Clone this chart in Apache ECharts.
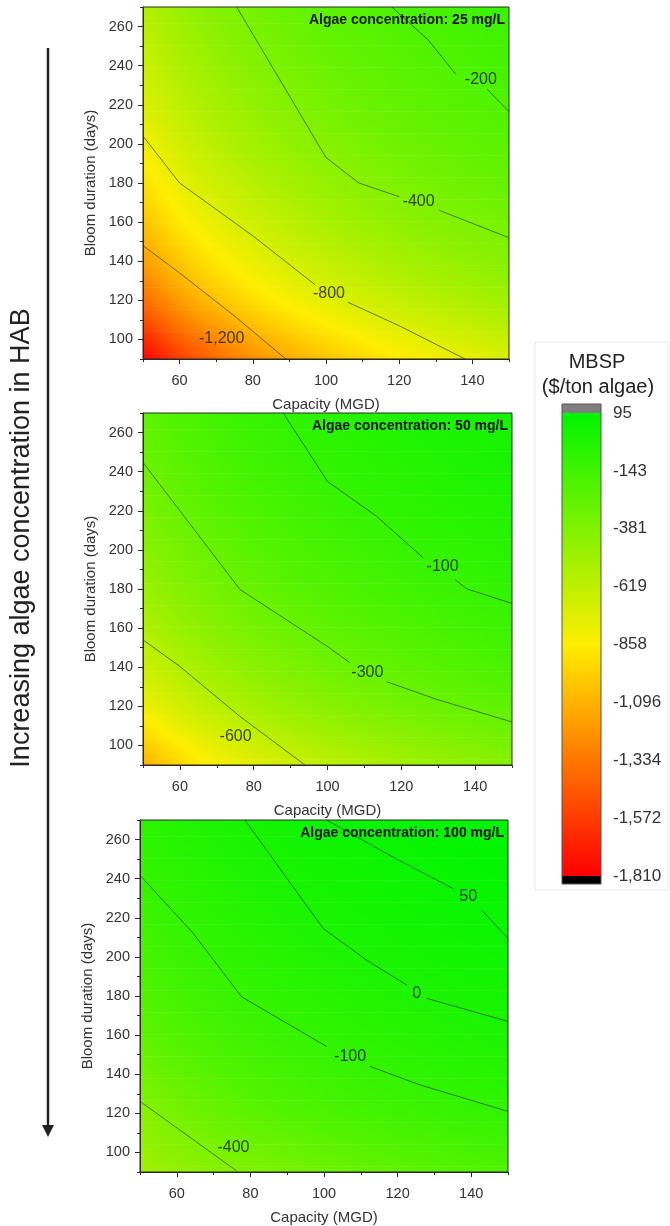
<!DOCTYPE html>
<html>
<head>
<meta charset="utf-8">
<title>MBSP vs capacity and bloom duration</title>
<script src="https://cdn.jsdelivr.net/npm/echarts@6/dist/echarts.min.js"></script>
<style>
  html, body { margin: 0; padding: 0; background: #fff; }
  #box { width: 670px; height: 1226px; }
</style>
</head>
<body>
<div id="box"></div>
<script>
// grid nodes of the maps (capacity in MGD, bloom duration in days)
var capacity = [50, 60, 70, 80, 90, 100, 110, 120, 130, 140, 150];
var duration = [90, 120, 150, 180, 210, 240, 270];
var capacityTicks = [60, 80, 100, 120, 140];
var durationTicks = [100, 120, 140, 160, 180, 200, 220, 240, 260];
var colorbarTicks = [95, -143, -381, -619, -858, -1096, -1334, -1572, -1810];

// MBSP ($/ton algae), one row per duration (90 -> 270), one column per capacity
var mbsp25 = [
  [-1811, -1569, -1385, -1240, -1124, -1027, -946, -875, -813, -759, -712],
  [-1379, -1187, -1041, -926, -833, -756, -691, -635, -586, -543, -505],
  [-1104, -943, -821, -725, -647, -583, -529, -482, -441, -405, -373],
  [-915, -776, -670, -587, -520, -464, -418, -377, -341, -310, -283],
  [-774, -651, -557, -484, -425, -376, -334, -298, -267, -240, -216],
  [-665, -555, -471, -405, -352, -307, -270, -238, -210, -185, -164],
  [-579, -478, -402, -342, -294, -253, -220, -190, -165, -142, -122]
];
var mbsp50 = [
  [-1103, -954, -840, -749, -674, -612, -560, -514, -473, -438, -406],
  [-808, -689, -598, -526, -467, -417, -376, -339, -307, -279, -254],
  [-619, -520, -444, -384, -334, -293, -258, -228, -201, -177, -156],
  [-490, -404, -338, -286, -243, -208, -178, -151, -128, -108, -89],
  [-393, -318, -259, -213, -176, -144, -117, -94, -73, -56, -40],
  [-319, -251, -199, -157, -123, -95, -71, -50, -32, -16, -1],
  [-260, -198, -150, -113, -82, -56, -34, -15, 2, 16, 29]
];
var mbsp100 = [
  [-500, -455, -415, -383, -350, -317, -285, -258, -234, -213, -194],
  [-416, -348, -295, -253, -219, -190, -165, -143, -124, -107, -92],
  [-298, -241, -197, -162, -133, -109, -88, -70, -54, -40, -27],
  [-216, -167, -129, -99, -74, -53, -35, -19, -6, 7, 18],
  [-156, -112, -79, -52, -30, -11, 5, 18, 31, 41, 51],
  [-109, -70, -40, -16, 4, 21, 35, 47, 58, 68, 77],
  [-72, -37, -9, 13, 31, 46, 59, 70, 80, 89, 95]
];

// contour lines [capacity, duration]; null = gap left for the label
var contours25 = [
  [[50, 148], [60, 134], [75, 112], [89, 90]],
  [[50, 204], [60, 180], [80, 153], [97, 128], null, [106, 119], [120, 107], [138, 90]],
  [[75.6, 270], [100, 193], [109, 180], [120, 173], null, [131, 166], [150, 152]],
  [[118, 270], [128, 253], [135.5, 235.5], null, [144, 228], [150, 216.5]]
];
var labels25 = [[71.5, 100.3, -1200], [100.8, 123.6, -800], [125.3, 170.4, -400], [142.3, 232.8, -200]];

var contours50 = [
  [[50, 154], [60, 140.4], [76.3, 114.8], [93.9, 90]],
  [[50, 244.7], [76.3, 179.7], [100, 150.6], [106, 142.4], null, [116, 132.6], [129.7, 123.5], [150, 112]],
  [[88, 270], [100, 235], [113.3, 217.2], [125.9, 196], null, [134.6, 184.8], [137.7, 180.1], [150, 172.6]]
];
var labels50 = [[75.1, 104.4, -600], [110.8, 137.1, -300], [131.2, 191.6, -100]];

var contours100 = [
  [[50, 126.1], [76.3, 90.5]],
  [[50, 241.7], [64.5, 212], [77.6, 179.6], [100.7, 154.2], null, [112.5, 144], [126, 134.6], [150, 121]],
  [[78.5, 270], [99.8, 214.5], [111.6, 198.3], [122.5, 185.6], null, [127.9, 178.8], [150, 167]],
  [[100.7, 270], [118.8, 251], [135.1, 234.9], null, [142.9, 223.8], [150, 209.4]]
];
var labels100 = [[75.4, 102.7, -400], [107.1, 149.1, -100], [125.2, 181.4, 0], [139.2, 230.6, 50]];

var panels = [
  { conc: '25 mg/L', values: mbsp25, lines: contours25, labels: labels25 },
  { conc: '50 mg/L', values: mbsp50, lines: contours50, labels: labels50 },
  { conc: '100 mg/L', values: mbsp100, lines: contours100, labels: labels100 }
];

// layout of the three maps
var gridLeft = [143, 143, 140];
var gridTop = [7, 413, 820];
var gridWidth = [366, 369, 368];
var gridHeight = 352;

// red -> yellow -> green colour scale
var scaleMin = -1810, scaleMid = -858, scaleMax = 95;
var cRed = [255, 0, 0], cYellow = [255, 238, 0], cGreen = [0, 245, 0];
var font = '"Liberation Sans", Arial, Helvetica, sans-serif';
var ink = '#2a2a2a';

function mix(a, b, t) {
  return 'rgb(' + Math.round(a[0] + (b[0] - a[0]) * t) + ',' +
    Math.round(a[1] + (b[1] - a[1]) * t) + ',' + Math.round(a[2] + (b[2] - a[2]) * t) + ')';
}
function mbspColor(v) {
  if (v <= scaleMin) return mix(cRed, cRed, 0);
  if (v >= scaleMax) return mix(cGreen, cGreen, 0);
  if (v < scaleMid) return mix(cRed, cYellow, (v - scaleMin) / (scaleMid - scaleMin));
  return mix(cYellow, cGreen, (v - scaleMid) / (scaleMax - scaleMid));
}
function fmt(v) { return Number(v).toLocaleString('en-US'); }

// smooth (Catmull-Rom) shading between the read grid nodes, used only for drawing
function pick(arr, i) {
  var n = arr.length;
  if (i < 0) return 2 * arr[0] - arr[1];
  if (i > n - 1) return 2 * arr[n - 1] - arr[n - 2];
  return arr[i];
}
function cr(p0, p1, p2, p3, t) {
  return 0.5 * (2 * p1 + (-p0 + p2) * t + (2 * p0 - 5 * p1 + 4 * p2 - p3) * t * t +
    (-p0 + 3 * p1 - 3 * p2 + p3) * t * t * t);
}
function colAt(rows, i, j, s) {
  var col = rows.map(function (r) { return r[i]; });
  return cr(pick(col, j - 1), pick(col, j), pick(col, j + 1), pick(col, j + 2), s);
}

function makeShade(rows) {
  return function (params, api) {
    var j = api.value(2);
    var c0 = capacity[0], c1 = capacity[capacity.length - 1];
    var tl = api.coord([c0, api.value(1)]);
    var br = api.coord([c1, api.value(0)]);
    var w = br[0] - tl[0], h = br[1] - tl[1];
    var n = Math.ceil(h / 1.5);
    var children = [];
    for (var k = 0; k < n; k++) {
      var s = 1 - (k + 0.5) / n;
      var line = capacity.map(function (c, i) { return colAt(rows, i, j, s); });
      var stops = [];
      for (var i = 0; i < capacity.length; i++) {
        stops.push({ offset: (capacity[i] - c0) / (c1 - c0), color: mbspColor(line[i]) });
        if (i < capacity.length - 1) {
          for (var q = 1; q < 6; q++) {
            var f = q / 6;
            var v = cr(pick(line, i - 1), line[i], line[i + 1], pick(line, i + 2), f);
            var cc = capacity[i] + (capacity[i + 1] - capacity[i]) * f;
            stops.push({ offset: (cc - c0) / (c1 - c0), color: mbspColor(v) });
          }
        }
      }
      children.push({
        type: 'rect',
        shape: { x: tl[0], y: tl[1] + k * h / n, width: w, height: h / n + 0.7 },
        style: { fill: { type: 'linear', x: 0, y: 0, x2: 1, y2: 0, colorStops: stops } }
      });
    }
    return { type: 'group', children: children };
  };
}

var option = {
  animation: false,
  backgroundColor: '#fff',
  textStyle: { fontFamily: font },
  grid: [], xAxis: [], yAxis: [], series: [], title: [], graphic: []
};

panels.forEach(function (p, k) {
  option.grid.push({
    left: gridLeft[k], top: gridTop[k], width: gridWidth[k], height: gridHeight,
    show: true, borderColor: ink, borderWidth: 1, backgroundColor: 'transparent', z: 10
  });
  // main axes: labels + long ticks
  option.xAxis.push({
    gridIndex: k, type: 'value', min: 50, max: 150, interval: 10, position: 'bottom', z: 10,
    name: 'Capacity (MGD)', nameLocation: 'middle', nameGap: 38,
    nameTextStyle: { fontSize: 15, color: '#333' },
    axisLine: { lineStyle: { color: ink, width: 1 } },
    axisTick: { customValues: capacityTicks, length: 5, lineStyle: { color: ink } },
    axisLabel: { customValues: capacityTicks, fontSize: 14.5, color: '#333', margin: 14 },
    splitLine: { show: false }
  });
  // minor ticks every 10
  option.xAxis.push({
    gridIndex: k, type: 'value', min: 50, max: 150, interval: 10, position: 'bottom', z: 10,
    axisLine: { show: false }, axisLabel: { show: false }, splitLine: { show: false },
    axisTick: { length: 3, lineStyle: { color: ink } }
  });
  option.yAxis.push({
    gridIndex: k, type: 'value', min: 90, max: 270, interval: 10, position: 'left', z: 10,
    name: 'Bloom duration (days)', nameLocation: 'middle', nameGap: 40,
    nameTextStyle: { fontSize: 15, color: '#333' },
    axisLine: { show: true, lineStyle: { color: ink, width: 1 } },
    axisTick: { customValues: durationTicks, length: 5, lineStyle: { color: ink } },
    axisLabel: { customValues: durationTicks, fontSize: 14.5, color: '#333', margin: 10 },
    splitLine: { show: false }
  });
  option.yAxis.push({
    gridIndex: k, type: 'value', min: 90, max: 270, interval: 10, position: 'left', z: 10,
    axisLine: { show: false }, axisLabel: { show: false }, splitLine: { show: false },
    axisTick: { length: 3, lineStyle: { color: ink } }
  });

  var bands = [];
  for (var j = 0; j < duration.length - 1; j++) bands.push([duration[j], duration[j + 1], j]);
  option.series.push({
    type: 'custom', xAxisIndex: 2 * k, yAxisIndex: 2 * k, data: bands,
    renderItem: makeShade(p.values), clip: true, silent: true, z: 1
  });

  p.lines.forEach(function (line) {
    var seg = [];
    line.concat([null]).forEach(function (pt) {
      if (pt) { seg.push(pt); return; }
      if (seg.length) {
        option.series.push({
          type: 'line', xAxisIndex: 2 * k, yAxisIndex: 2 * k, data: seg,
          symbol: 'none', silent: true, z: 3,
          lineStyle: { color: 'rgba(40,62,22,0.65)', width: 1 }
        });
      }
      seg = [];
    });
  });

  option.series.push({
    type: 'scatter', xAxisIndex: 2 * k, yAxisIndex: 2 * k, data: p.labels,
    symbolSize: 1, itemStyle: { color: 'rgba(0,0,0,0)' }, silent: true, z: 4,
    label: {
      show: true, position: 'inside', fontSize: 16, color: '#1a1a1a',
      formatter: function (d) { return fmt(d.value[2]); }
    }
  });

  option.title.push({
    text: '{a|Algae concentration: }{b|' + p.conc + '}',
    right: 670 - (gridLeft[k] + gridWidth[k]) + 4, top: gridTop[k] + 6, padding: 0, z: 12,
    textStyle: {
      rich: {
        a: { fontSize: 14, color: '#1a1a1a', fontFamily: font },
        b: { fontSize: 14, color: '#111', fontWeight: 'bold', fontFamily: font }
      }
    }
  });
});

// colour bar: its own grid, with the value axis carrying the ticks
option.grid.push({ left: 562, top: 413, width: 39, height: 463 });
option.xAxis.push({ gridIndex: 3, type: 'value', min: 0, max: 1, show: false });
option.yAxis.push({
  gridIndex: 3, type: 'value', min: scaleMin, max: scaleMax, position: 'right',
  axisLine: { show: false }, splitLine: { show: false },
  axisTick: { show: true, customValues: colorbarTicks, length: 7, lineStyle: { color: '#555' } },
  axisLabel: { customValues: colorbarTicks, fontSize: 17, color: '#333', margin: 12, formatter: fmt }
});
option.series.push({
  type: 'custom', xAxisIndex: 6, yAxisIndex: 6, data: [[0, scaleMin, 1, scaleMax]], silent: true,
  renderItem: function (params, api) {
    var top = api.coord([api.value(0), api.value(3)]);
    var bot = api.coord([api.value(2), api.value(1)]);
    var w = bot[0] - top[0], h = bot[1] - top[1];
    var mid = (scaleMax - scaleMid) / (scaleMax - scaleMin);
    return {
      type: 'group', children: [
        { type: 'rect', shape: { x: top[0], y: top[1] - 9, width: w, height: 9 }, style: { fill: '#7f7f7f' } },
        {
          type: 'rect', shape: { x: top[0], y: top[1], width: w, height: h },
          style: {
            fill: {
              type: 'linear', x: 0, y: 0, x2: 0, y2: 1, colorStops: [
                { offset: 0, color: mbspColor(scaleMax) },
                { offset: mid, color: mbspColor(scaleMid) },
                { offset: 1, color: mbspColor(scaleMin) }
              ]
            }
          }
        },
        { type: 'rect', shape: { x: top[0], y: bot[1], width: w, height: 8 }, style: { fill: '#000' } },
        {
          type: 'rect', shape: { x: top[0], y: top[1] - 9, width: w, height: h + 17 },
          style: { fill: 'none', stroke: '#555', lineWidth: 1 }
        }
      ]
    };
  }
});

option.graphic = [
  { type: 'rect', shape: { x: 535, y: 342, width: 133, height: 548 }, style: { fill: 'none', stroke: '#e8e8e8', lineWidth: 1 } },
  { type: 'text', x: 597, y: 362, style: { text: 'MBSP', fontSize: 20, fontFamily: font, fill: '#222', textAlign: 'center', textVerticalAlign: 'middle', align: 'center', verticalAlign: 'middle' } },
  { type: 'text', x: 598, y: 387, style: { text: '($/ton algae)', fontSize: 20, fontFamily: font, fill: '#222', textAlign: 'center', textVerticalAlign: 'middle', align: 'center', verticalAlign: 'middle' } },
  { type: 'line', shape: { x1: 48, y1: 48, x2: 48, y2: 1127 }, style: { stroke: '#222', lineWidth: 2.5 } },
  { type: 'polygon', shape: { points: [[42, 1125], [54, 1125], [48, 1137]] }, style: { fill: '#222' } },
  {
    type: 'text', x: 22, y: 538, rotation: Math.PI / 2,
    style: { text: 'Increasing algae concentration in HAB', fontSize: 27, fontFamily: font, fill: '#222', textAlign: 'center', textVerticalAlign: 'middle', align: 'center', verticalAlign: 'middle' }
  }
];

var myChart = echarts.init(document.getElementById('box'), null, { renderer: 'canvas' });
myChart.setOption(option);
</script>
</body>
</html>
